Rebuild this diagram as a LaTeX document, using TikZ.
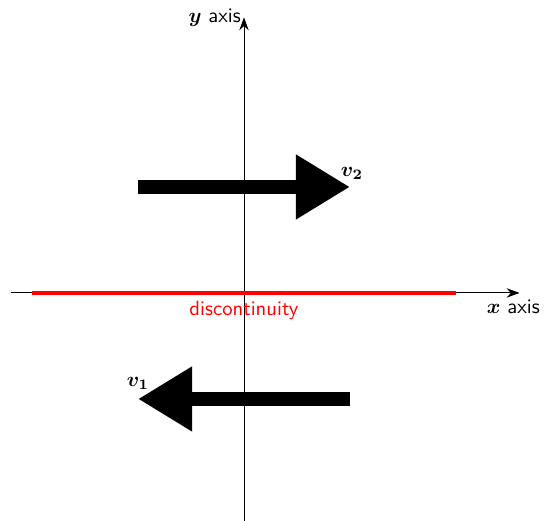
\documentclass[tikz,border=0pt]{standalone}
\usepackage{amsmath,amssymb}
\usepackage{xcolor}
\usepackage{tikz}
\usetikzlibrary{arrows.meta,positioning}

\begin{document}
\begin{tikzpicture}[
  x=1.8cm, y=1.8cm,
  axis/.style={-{Stealth[length=2.2mm,width=1.6mm]}, line width=0.45pt},
  vec/.style={line width=0.24cm, -{Triangle[length=0.92cm,width=1.04cm]}},
  cut/.style={red, line width=1.6pt},
  lbl/.style={font=\sffamily}
]
  \useasboundingbox (-2.302,-2.151) rectangle (2.887,2.764);

  % axes
  \coordinate (xl) at (-2.2,0);
  \coordinate (xr) at (2.6,0);
  \coordinate (yb) at (0,-2.16);
  \coordinate (yt) at (0,2.6);
  \draw[axis] (xl) -- (xr) node[lbl, below, xshift=-3pt] (xlab) {$\boldsymbol{x}$ axis};
  \draw[axis] (yb) -- (yt) node[lbl, left, xshift=2pt] (ylab) {$\boldsymbol{y}$ axis};

  % discontinuity
  \coordinate (dl) at (-2,0);
  \coordinate (dr) at (2,0);
  \draw[cut] (dl) -- node[lbl, below] (dlab) {discontinuity} (dr);

  % vectors
  \coordinate (a2) at (-1,1);
  \coordinate (b2) at (1,1);
  \coordinate (a1) at (1,-1);
  \coordinate (b1) at (-1,-1);
  \draw[vec] (a2) -- (b2) node[above, yshift=-3pt, xshift=1pt] (v2) {$\boldsymbol{v_2}$};
  \draw[vec] (a1) -- (b1) node[above, yshift=-2pt] (v1) {$\boldsymbol{v_1}$};
\end{tikzpicture}
\end{document}
